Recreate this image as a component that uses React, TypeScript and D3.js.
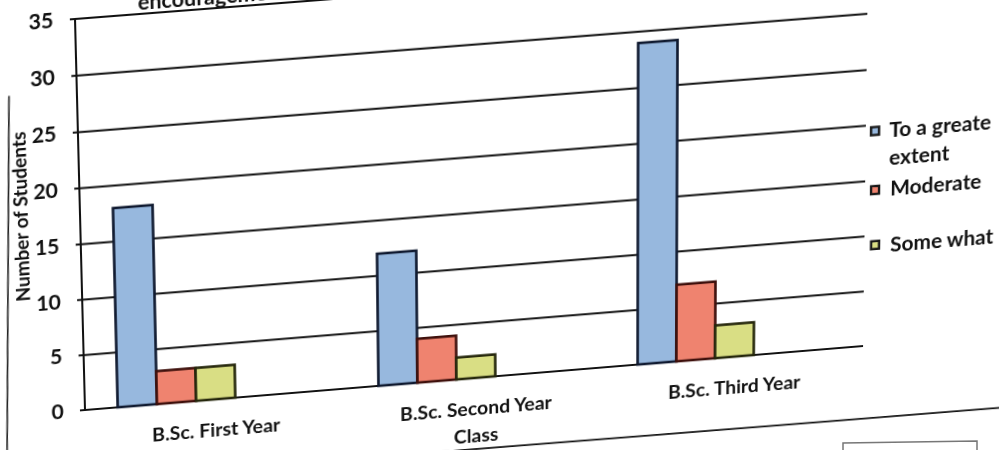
import React from "react";
import * as d3 from "d3";

// ---------- data ----------
const categories = ["B.Sc. First Year", "B.Sc. Second Year", "B.Sc. Third Year"];
const seriesNames = ["To a greate extent", "Moderate", "Some what"];
const toAGreatExtent = [18, 12, 29];
const moderate = [3, 4, 7];
const someWhat = [3, 2, 3];
const yTicks = [0, 5, 10, 15, 20, 25, 30, 35];
const yTitle = "Number of Students";
const xTitle = "Class";
const chartTitle = "encouragement";

const seriesValues = [toAGreatExtent, moderate, someWhat];
const fills = ["#97b8de", "#ef836f", "#d9de84"];
const strokes = ["#101a30", "#3e100c", "#25270c"];

// ---------- layout (flat chart space) ----------
const PL = 85, PT = 19, PW = 780, PH = 391;

// photo perspective: flat plot corners -> picture corners
const SRC = [[PL, PT], [PL, PT + PH], [PL + PW, PT + PH], [PL + PW, PT]];
const DST = [[75, 19], [85, 410], [863, 346], [868, -42.5]];

function solveHomography(src: number[][], dst: number[][]) {
  const A: number[][] = [];
  const b: number[] = [];
  for (let i = 0; i < 4; i++) {
    const [x, y] = src[i];
    const [u, v] = dst[i];
    A.push([x, y, 1, 0, 0, 0, -x * u, -y * u]); b.push(u);
    A.push([0, 0, 0, x, y, 1, -x * v, -y * v]); b.push(v);
  }
  const n = 8;
  for (let c = 0; c < n; c++) {
    let p = c;
    for (let r = c + 1; r < n; r++) if (Math.abs(A[r][c]) > Math.abs(A[p][c])) p = r;
    [A[c], A[p]] = [A[p], A[c]];
    [b[c], b[p]] = [b[p], b[c]];
    for (let r = 0; r < n; r++) {
      if (r === c) continue;
      const f = A[r][c] / A[c][c];
      for (let k = c; k < n; k++) A[r][k] -= f * A[c][k];
      b[r] -= f * b[c];
    }
  }
  const h = b.map((v, i) => v / A[i][i]);
  return [h[0], h[1], h[2], h[3], h[4], h[5], h[6], h[7], 1];
}

const H = solveHomography(SRC, DST);
function invert3(m: number[]) {
  const [a, b, c, d, e, f, g, h, i] = m;
  const A = e * i - f * h, B = -(d * i - f * g), C = d * h - e * g;
  const D = -(b * i - c * h), E = a * i - c * g, F = -(a * h - b * g);
  const G = b * f - c * e, Hh = -(a * f - c * d), I = a * e - b * d;
  const det = a * A + b * B + c * C;
  return [A / det, D / det, G / det, B / det, E / det, Hh / det, C / det, F / det, I / det];
}
const HI = invert3(H);
function inv(p: number[]) {
  const [x, y] = p;
  const w = HI[6] * x + HI[7] * y + HI[8];
  return [(HI[0] * x + HI[1] * y + HI[2]) / w, (HI[3] * x + HI[4] * y + HI[5]) / w];
}
const cssMatrix = `matrix3d(${H[0]},${H[3]},0,${H[6]},${H[1]},${H[4]},0,${H[7]},0,0,1,0,${H[2]},${H[5]},0,1)`;

const FONT = "Lato, 'Open Sans', sans-serif";

export default function App() {
  const y = d3.scaleLinear().domain([0, 35]).range([PT + PH, PT]);
  const x0 = d3.scaleBand<string>().domain(categories).range([PL, PL + PW]).padding(0);
  const x1 = d3.scaleBand<number>().domain(d3.range(5)).range([0, x0.bandwidth()]).paddingInner(0).paddingOuter(0.833);

  const yTitlePos = inv([21, 217]);
  const titlePos = inv([138, 10]);
  const frameA = inv([9, 96]);
  const frameB = inv([7, 470]);
  const bottomA = inv([400, 455]);
  const bottomB = inv([1010, 407]);

  const legendMarkers = [inv([875, 131]), inv([875, 190]), inv([875, 245])];
  const legendLines: { t: string; p: number[] }[] = [
    { t: "To a greate", p: inv([889, 137]) },
    { t: "extent", p: inv([889, 165]) },
    { t: "Moderate", p: inv([890, 196]) },
    { t: "Some what", p: inv([890, 252]) },
  ];

  return (
    <div style={{ position: "absolute", left: 0, top: 0, width: 999, height: 450, overflow: "hidden", background: "#fff" }}>
      <svg
        width={999}
        height={450}
        style={{ position: "absolute", left: 0, top: 0, overflow: "visible", transformOrigin: "0 0", transform: cssMatrix }}
      >
        {/* chart frame (left + bottom edges) */}
        <path d={`M${frameA[0]},${frameA[1]}L${frameB[0]},${frameB[1]}`} stroke="#222" strokeWidth={1.6} fill="none" />
        <path d={`M${bottomA[0]},${bottomA[1]}L${bottomB[0]},${bottomB[1]}`} stroke="#111" strokeWidth={1.8} fill="none" />

        {/* title (mostly out of frame, as in the photo) */}
        <text x={titlePos[0]} y={titlePos[1]} fontFamily={FONT} fontWeight={700} fontSize={21} fill="#111">
          {chartTitle}
        </text>

        {/* gridlines */}
        {yTicks.map((t) => (
          <line key={"g" + t} x1={PL - 5} x2={PL + PW} y1={y(t)} y2={y(t)} stroke="#111" strokeWidth={2} />
        ))}
        {/* axis */}
        <line x1={PL} x2={PL} y1={PT} y2={PT + PH} stroke="#111" strokeWidth={2} />
        {yTicks.map((t) => (
          <text key={"t" + t} x={PL - 21} y={y(t)} dy="0.35em" textAnchor="end" fontFamily={FONT} fontWeight={700} fontSize={21} fill="#111">
            {t}
          </text>
        ))}

        {/* bars */}
        {categories.map((c, ci) => (
          <g key={c} transform={`translate(${x0(c)},0)`}>
            {seriesValues.map((vals, si) => (
              <rect
                key={si}
                x={x1(si)}
                y={y(vals[ci])}
                width={x1.bandwidth()}
                height={y(0) - y(vals[ci])}
                fill={fills[si]}
                stroke={strokes[si]}
                strokeWidth={2.6}
              />
            ))}
          </g>
        ))}

        {/* category labels */}
        {categories.map((c) => (
          <text key={"c" + c} x={(x0(c) as number) + x0.bandwidth() / 2} y={PT + PH + 38} textAnchor="middle" fontFamily={FONT} fontWeight={700} fontSize={19.5} fill="#111">
            {c}
          </text>
        ))}
        <text x={PL + PW / 2} y={PT + PH + 66} textAnchor="middle" fontFamily={FONT} fontWeight={700} fontSize={19.5} fill="#111">
          {xTitle}
        </text>

        <text
          transform={`translate(${yTitlePos[0]},${yTitlePos[1]}) rotate(-90)`}
          textAnchor="middle"
          dy="0.35em"
          fontFamily={FONT}
          fontWeight={700}
          fontSize={19}
          fill="#111"
        >
          {yTitle}
        </text>

        {/* legend */}
        {legendMarkers.map((p, i) => (
          <rect key={"m" + i} x={p[0] - 4} y={p[1] - 4} width={8} height={8} fill={fills[i]} stroke="#1a1a1a" strokeWidth={2.4} />
        ))}
        {legendLines.map((l, i) => (
          <text key={"l" + i} x={l.p[0]} y={l.p[1]} fontFamily={FONT} fontWeight={700} fontSize={21} fill="#111">
            {l.t}
          </text>
        ))}
        <desc>{seriesNames.join(", ")}</desc>
      </svg>
      <svg width={999} height={450} style={{ position: "absolute", left: 0, top: 0 }}>
        <path d="M843,452L843,443L977,441L977,452" fill="none" stroke="#777" strokeWidth={1.5} />
      </svg>
    </div>
  );
}
